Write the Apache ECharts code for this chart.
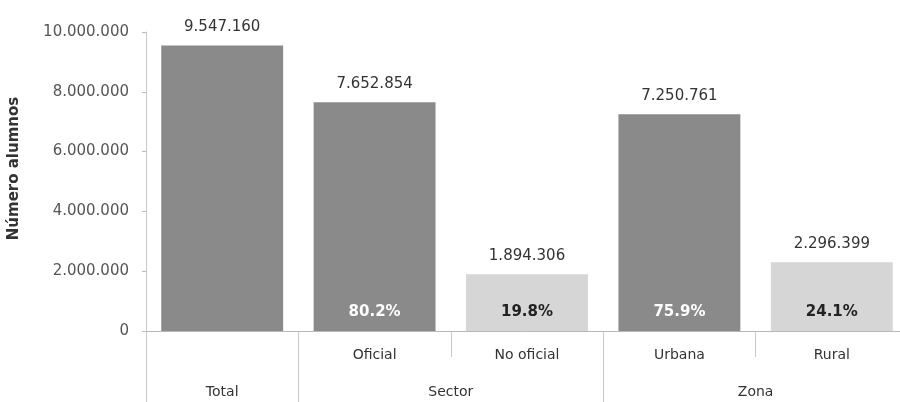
<!DOCTYPE html>
<html>
<head>
<meta charset="utf-8">
<script src="https://cdn.jsdelivr.net/npm/echarts@6/dist/echarts.min.js"></script>
<style>
html,body{margin:0;padding:0;background:#fff;}
#chart{width:900px;height:402px;}
</style>
</head>
<body>
<div id="chart"></div>
<script>
// ---- data ----
const categories = ['', 'Oficial', 'No oficial', 'Urbana', 'Rural'];
const values = [9547160, 7652854, 1894306, 7250761, 2296399];
const percents = [null, 80.2, 19.8, 75.9, 24.1];
const groups = ['Total', 'Sector', 'Zona'];
const groupSpans = [1, 2, 2];
const yTicks = [0, 2000000, 4000000, 6000000, 8000000, 10000000];

// ---- styles ----
const DARK = '#8a8a8a', LIGHT = '#d6d6d6';
const barShades = [DARK, DARK, LIGHT, DARK, LIGHT];
const pctColors = ['#ffffff', '#ffffff', '#222222', '#ffffff', '#222222'];
const FONT = 'DejaVu Sans';

function fmt(n) {
  return String(Math.round(n)).replace(/\B(?=(\d{3})+(?!\d))/g, '.');
}

// group boundaries / midpoints in category units
const bounds = [0];
groupSpans.forEach(s => bounds.push(bounds[bounds.length - 1] + s));
const mids = groupSpans.map((s, i) => bounds[i] + s / 2);
const midName = {};
mids.forEach((m, i) => { midName[m] = groups[i]; });

const chart = echarts.init(document.getElementById('chart'), null, {renderer: 'canvas'});
chart.setOption({
  animation: false,
  backgroundColor: '#ffffff',
  textStyle: {fontFamily: FONT},
  grid: {left: 146, width: 762, top: 32, height: 299, containLabel: false, outerBoundsMode: 'none'},
  xAxis: [
    {
      type: 'category',
      data: categories,
      position: 'bottom',
      axisLine: {show: true, lineStyle: {color: '#b8b8b8', width: 1}},
      axisTick: {show: true, interval: 0, length: 26, lineStyle: {color: '#c8c8c8'}},
      axisLabel: {interval: 0, margin: 17, color: '#333', fontSize: 14, fontFamily: FONT},
      splitLine: {show: false}
    },
    {
      type: 'value',
      min: 0,
      max: bounds[bounds.length - 1],
      position: 'bottom',
      axisLine: {show: false},
      axisTick: {show: true, customValues: bounds, length: 72, lineStyle: {color: '#c8c8c8'}},
      axisLabel: {
        show: true, customValues: mids, margin: 54, color: '#333', fontSize: 14, fontFamily: FONT,
        formatter: v => midName[v] || ''
      },
      splitLine: {show: false}
    }
  ],
  yAxis: {
    type: 'value',
    min: yTicks[0],
    max: yTicks[yTicks.length - 1],
    interval: yTicks[1] - yTicks[0],
    name: 'Número alumnos',
    nameLocation: 'middle',
    nameRotate: 90,
    nameGap: 124,
    nameTextStyle: {fontWeight: 'bold', fontSize: 15, color: '#333', fontFamily: FONT, padding: [0, 0, 0, 26]},
    axisLine: {show: true, lineStyle: {color: '#c8c8c8'}},
    axisTick: {show: true, length: 4, lineStyle: {color: '#bbb'}},
    axisLabel: {color: '#555', fontSize: 15, margin: 17, fontFamily: FONT, formatter: v => fmt(v)},
    splitLine: {show: false}
  },
  series: [
    {
      type: 'bar',
      xAxisIndex: 0,
      barWidth: '80%',
      data: values.map((v, i) => ({value: v, itemStyle: {color: barShades[i]}})),
      label: {
        show: true, position: 'top', distance: 11,
        color: '#333', fontSize: 15, fontFamily: FONT,
        formatter: p => fmt(p.value)
      },
      silent: true
    },
    {
      type: 'bar',
      xAxisIndex: 0,
      barWidth: '80%',
      barGap: '-100%',
      data: values.map((v, i) => ({
        value: v,
        label: {color: pctColors[i]}
      })),
      itemStyle: {color: 'rgba(0,0,0,0)'},
      label: {
        show: true, position: 'insideBottom', distance: 11,
        fontSize: 15, fontWeight: 'bold', fontFamily: FONT,
        formatter: p => percents[p.dataIndex] == null ? '' : percents[p.dataIndex].toFixed(1) + '%'
      },
      silent: true
    }
  ]
});
</script>
</body>
</html>
